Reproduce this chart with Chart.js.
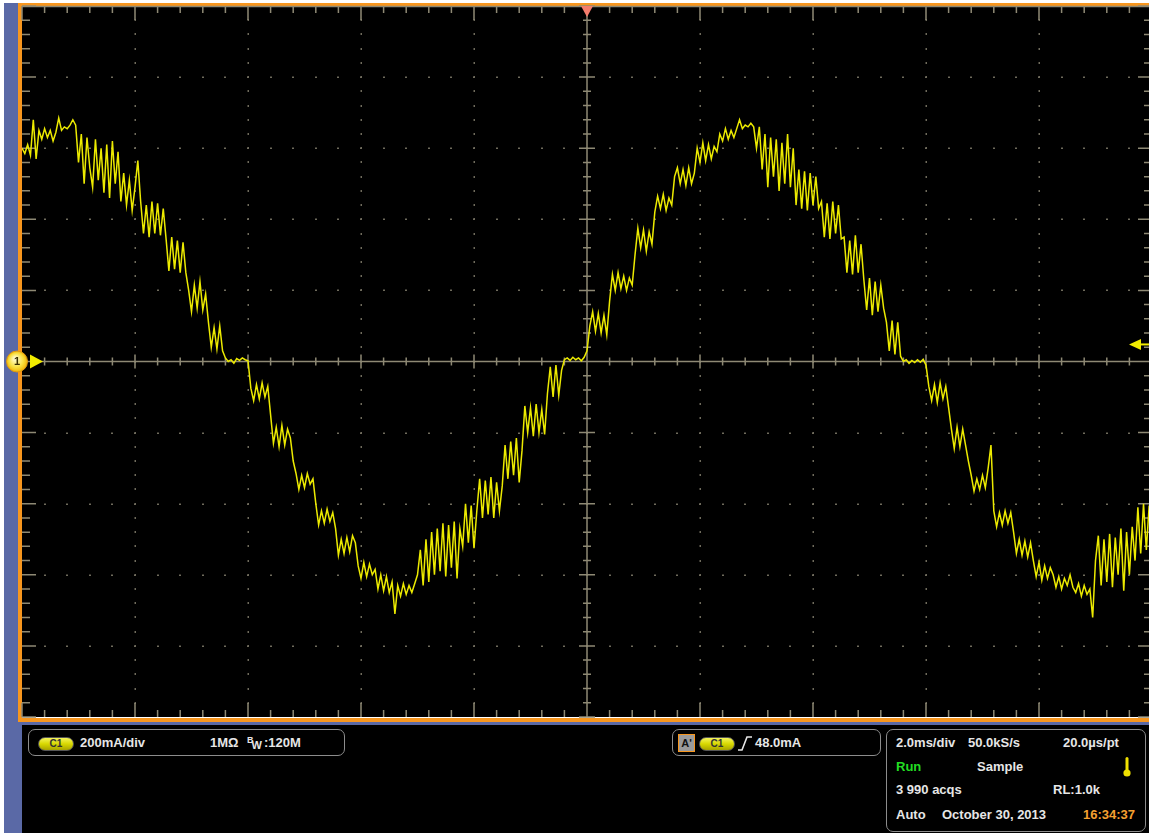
<!DOCTYPE html>
<html>
<head>
<meta charset="utf-8">
<script src="https://cdn.jsdelivr.net/npm/chart.js@4"></script>
<style>
body{margin:0;background:#fff;overflow:hidden;}
#scope{position:absolute;left:0;top:0;width:1149px;height:833px;overflow:hidden;background:#fff;}
.blk{position:absolute;}
.t{position:absolute;font:bold 13px "Liberation Sans",Arial,sans-serif;color:#e6e6e6;line-height:16px;white-space:nowrap;}
.box{position:absolute;border:1px solid #8c8c8c;border-radius:7px;background:#000;box-sizing:border-box;}
.pill{position:absolute;width:36px;height:14px;border-radius:7px;border:1px solid #555;box-sizing:border-box;
  background:linear-gradient(#f4f45a,#d8d800 50%,#a8a400);font:bold 10px "Liberation Sans",Arial,sans-serif;color:#333;text-align:center;line-height:12px;}
#myChart{position:absolute;left:0;top:0;}
</style>
</head>
<body>
<div id="scope">
  <div class="blk" style="left:4px;top:3px;width:18px;height:830px;background:#5a69a6;"></div>
  <div class="blk" style="left:4px;top:722px;width:1145px;height:3px;background:#5a69a6;"></div>
  <div class="blk" style="left:18px;top:3px;width:1131px;height:3px;background:#f7961e;"></div>
  <div class="blk" style="left:18px;top:3px;width:4px;height:719px;background:#f7961e;"></div>
  <div class="blk" style="left:18px;top:718px;width:1131px;height:4px;background:#f7961e;"></div>
  <div class="blk" style="left:22px;top:725px;width:1127px;height:108px;background:#000;"></div>

  <div class="box" style="left:28px;top:729px;width:317px;height:27px;"></div>
  <div class="pill" style="left:38px;top:737px;">C1</div>
  <div class="t" style="left:80px;top:735px;">200mA/div</div>
  <div class="t" style="left:210px;top:735px;">1MΩ</div>
  <div class="t" style="left:247px;top:735px;"><span style="font-size:9px;position:relative;top:-4px;">B</span><span style="font-size:11px;position:relative;top:2px;left:-2px;">W</span>:120M</div>

  <div class="box" style="left:672px;top:729px;width:209px;height:27px;"></div>
  <div class="blk" style="left:678px;top:734px;width:17px;height:18px;box-sizing:border-box;border:1px solid #f7961e;background:#9a9a9a;font:bold 11px 'Liberation Sans',Arial,sans-serif;color:#111;text-align:center;line-height:16px;">A'</div>
  <div class="pill" style="left:699px;top:737px;">C1</div>
  <svg class="blk" style="left:737px;top:735px;" width="16" height="16"><path d="M1,15 L5,15 L10,2 L15,2" fill="none" stroke="#e6e6e6" stroke-width="1.6"/></svg>
  <div class="t" style="left:755px;top:735px;">48.0mA</div>

  <div class="box" style="left:886px;top:729px;width:260px;height:103px;"></div>
  <div class="t" style="left:896px;top:735px;">2.0ms/div</div>
  <div class="t" style="left:968px;top:735px;">50.0kS/s</div>
  <div class="t" style="left:1063px;top:735px;">20.0µs/pt</div>
  <div class="t" style="left:896px;top:759px;color:#22dd22;">Run</div>
  <div class="t" style="left:977px;top:759px;">Sample</div>
  <svg class="blk" style="left:1121px;top:756px;" width="12" height="22"><rect x="4.5" y="1" width="3" height="14" rx="1.5" fill="#f0e000"/><circle cx="6" cy="17" r="3.6" fill="#f0e000"/></svg>
  <div class="t" style="left:896px;top:782px;">3 990 acqs</div>
  <div class="t" style="left:1053px;top:782px;">RL:1.0k</div>
  <div class="t" style="left:896px;top:807px;">Auto</div>
  <div class="t" style="left:942px;top:807px;">October 30, 2013</div>
  <div class="t" style="left:1083px;top:807px;color:#f5a030;">16:34:37</div>

  <canvas id="myChart" width="1160" height="833"></canvas>
</div>
<script>
// channel 1 record, 2.0 ms/div, 200 mA/div
const timeStart = -10;      // ms at left edge
const sampleStep = 0.05;    // ms between stored samples
const currentMA = [
  600, 585, 610, 580, 680, 570, 650, 625, 655, 630,
  650, 620, 645, 685, 650, 660, 655, 665, 680, 665,
  560, 640, 500, 630, 545, 490, 625, 510, 600, 475,
  610, 460, 620, 500, 590, 450, 530, 440, 510, 425,
  490, 565, 450, 360, 440, 350, 450, 360, 445, 355,
  430, 345, 255, 350, 260, 340, 250, 335, 250, 200,
  140, 215, 150, 225, 145, 190, 110, 40, 95, 35,
  100, 30, 10, 0, 5, -5, 8, 3, 10, 5,
  2, -75, -110, -65, -105, -60, -100, -70, -150, -230,
  -185, -240, -180, -235, -190, -215, -280, -315, -360, -320,
  -355, -315, -345, -330, -400, -460, -420, -455, -415, -450,
  -425, -470, -545, -500, -540, -495, -535, -490, -510, -575,
  -610, -565, -605, -570, -600, -585, -640, -600, -645, -605,
  -650, -620, -710, -630, -660, -625, -655, -630, -650, -625,
  -600, -530, -630, -500, -620, -480, -600, -470, -590, -455,
  -605, -460, -580, -450, -610, -470, -520, -400, -510, -405,
  -525, -420, -330, -440, -335, -430, -325, -440, -340, -420,
  -350, -235, -330, -225, -320, -215, -340, -250, -125, -200,
  -130, -210, -120, -200, -135, -205, -90, -15, -100, -10,
  -95, -25, 5, 10, 3, 12, 5, 10, 2, 12,
  30, 100, 140, 85, 135, 80, 130, 75, 170, 245,
  200, 250, 205, 240, 200, 235, 215, 300, 375, 320,
  370, 310, 365, 330, 420, 465, 430, 470, 425, 460,
  440, 520, 545, 500, 540, 495, 545, 500, 530, 600,
  560, 615, 565, 610, 570, 605, 590, 640, 620, 655,
  625, 650, 630, 655, 680, 655, 665, 660, 670, 660,
  600, 660, 540, 640, 490, 630, 520, 625, 480, 615,
  500, 640, 490, 600, 440, 540, 430, 535, 425, 530,
  440, 520, 430, 450, 350, 445, 345, 450, 360, 440,
  345, 350, 250, 340, 245, 355, 250, 330, 230, 145,
  235, 130, 225, 140, 215, 150, 110, 30, 115, 20,
  110, 15, 0, 5, -5, 3, -3, 5, -2, 6,
  -10, -70, -110, -65, -115, -60, -105, -70, -130, -190,
  -245, -185, -240, -190, -235, -280, -320, -365, -330, -360,
  -320, -355, -300, -235, -420, -465, -425, -460, -420, -455,
  -425, -480, -540, -500, -545, -505, -550, -510, -560, -605,
  -565, -615, -575, -610, -580, -600, -635, -605, -640, -610,
  -630, -600, -635, -650, -625, -660, -630, -655, -640, -720,
  -560, -490, -630, -500, -620, -485, -635, -495, -600, -470,
  -645, -480, -600, -465, -560, -410, -540, -400, -530, -405,
  -470
];
const timeDivs = [-10, -8, -6, -4, -2, 0, 2, 4, 6, 8, 10];
const currentDivs = [-1000, -800, -600, -400, -200, 0, 200, 400, 600, 800, 1000];
const triggerLevel = 48;    // mA
const triggerTime = 0;      // ms

const points = currentMA.map((v, i) => ({x: timeStart + i * sampleStep, y: v}));

const gridCol = '#8e8974';

const graticule = {
  id: 'graticule',
  beforeDatasetsDraw(chart) {
    const {ctx, chartArea: a, scales: {x, y}} = chart;
    const minorT = (timeDivs[1] - timeDivs[0]) / 5;
    const minorI = (currentDivs[1] - currentDivs[0]) / 5;
    ctx.save();
    ctx.fillStyle = '#000';
    ctx.fillRect(a.left, a.top, a.right - a.left, a.bottom - a.top);

    // dotted major lines
    ctx.fillStyle = '#6f6b5c';
    timeDivs.slice(1, -1).forEach(t => {
      if (t === 0) return;
      const px = Math.round(x.getPixelForValue(t));
      for (let v = currentDivs[0] + minorI; v < currentDivs[10]; v += minorI) {
        const py = Math.round(y.getPixelForValue(v));
        ctx.fillRect(px - 0.5, py - 1, 1.5, 2);
      }
    });
    currentDivs.slice(1, -1).forEach(v => {
      if (v === 0) return;
      const py = Math.round(y.getPixelForValue(v));
      for (let t = timeDivs[0] + minorT; t < timeDivs[10] - 0.01; t += minorT) {
        const px = Math.round(x.getPixelForValue(t));
        ctx.fillRect(px - 1, py - 0.5, 2, 1.5);
      }
    });

    ctx.strokeStyle = gridCol;
    ctx.lineWidth = 1.5;
    ctx.beginPath();
    // top border line
    ctx.moveTo(a.left, a.top + 0.5); ctx.lineTo(a.right, a.top + 0.5);
    // center axes
    const cx = x.getPixelForValue(0), cy = y.getPixelForValue(0);
    ctx.moveTo(a.left, cy); ctx.lineTo(a.right, cy);
    ctx.moveTo(cx, a.top); ctx.lineTo(cx, a.bottom);

    // ticks along time direction
    for (let k = 0; k <= 50; k++) {
      const t = timeDivs[0] + k * minorT;
      const px = x.getPixelForValue(t);
      const major = k % 5 === 0;
      const len = major ? 14 : 7;
      ctx.moveTo(px, a.top); ctx.lineTo(px, a.top + len);
      ctx.moveTo(px, a.bottom); ctx.lineTo(px, a.bottom - len);
      const h = major ? 7 : 4;
      ctx.moveTo(px, cy - h); ctx.lineTo(px, cy + h);
    }
    // ticks along current direction
    for (let k = 0; k <= 50; k++) {
      const v = currentDivs[0] + k * minorI;
      const py = y.getPixelForValue(v);
      const major = k % 5 === 0;
      const len = major ? 14 : 8;
      ctx.moveTo(a.left, py); ctx.lineTo(a.left + len, py);
      ctx.moveTo(a.right, py); ctx.lineTo(a.right - len, py);
      const h = major ? 8 : 4;
      ctx.moveTo(cx - h, py); ctx.lineTo(cx + h, py);
    }
    ctx.stroke();
    ctx.restore();
  },
  afterDatasetsDraw(chart) {
    const {ctx, chartArea: a, scales: {x, y}} = chart;
    ctx.save();
    // trigger position marker
    const tx = x.getPixelForValue(triggerTime);
    ctx.fillStyle = '#f47c6c';
    ctx.beginPath();
    ctx.moveTo(tx - 6, a.top); ctx.lineTo(tx + 6, a.top); ctx.lineTo(tx, a.top + 11);
    ctx.closePath(); ctx.fill();

    // trigger level arrow on the right
    const ly = y.getPixelForValue(triggerLevel);
    ctx.fillStyle = '#f2ec00';
    ctx.beginPath();
    ctx.moveTo(1129, ly); ctx.lineTo(1141, ly - 5.5); ctx.lineTo(1141, ly + 5.5);
    ctx.closePath(); ctx.fill();
    ctx.fillRect(1140, ly - 1, 12, 2);

    // channel 1 ground marker
    const gy = y.getPixelForValue(0);
    ctx.beginPath();
    ctx.moveTo(30, gy - 7); ctx.lineTo(43, gy); ctx.lineTo(30, gy + 7);
    ctx.closePath(); ctx.fill();
    const grad = ctx.createRadialGradient(15, gy - 3, 1, 17, gy, 11);
    grad.addColorStop(0, '#fffbd0');
    grad.addColorStop(0.6, '#f8e040');
    grad.addColorStop(1, '#f0b000');
    ctx.fillStyle = grad;
    ctx.beginPath();
    ctx.arc(17, gy, 10.5, 0, Math.PI * 2);
    ctx.fill();
    ctx.strokeStyle = '#e09a10';
    ctx.lineWidth = 1;
    ctx.stroke();
    ctx.fillStyle = '#3a3000';
    ctx.font = 'bold 11px "Liberation Sans", Arial, sans-serif';
    ctx.textAlign = 'center';
    ctx.textBaseline = 'middle';
    ctx.fillText('1', 17, gy + 0.5);
    ctx.restore();
  }
};

const config = {
  type: 'line',
  data: {
    datasets: [{
      label: 'C1',
      data: points,
      borderColor: '#ecea00',
      borderWidth: 1.5,
      pointRadius: 0,
      tension: 0
    }]
  },
  options: {
    responsive: false,
    animation: false,
    devicePixelRatio: 1,
    layout: {padding: {left: 22, top: 6, right: 8, bottom: 116}},
    scales: {
      x: {type: 'linear', min: timeDivs[0], max: timeDivs[10], display: false},
      y: {type: 'linear', min: currentDivs[0], max: currentDivs[10], display: false}
    },
    plugins: {legend: {display: false}, tooltip: {enabled: false}}
  },
  plugins: [graticule]
};

new Chart(document.getElementById('myChart'), config);
</script>
</body>
</html>
